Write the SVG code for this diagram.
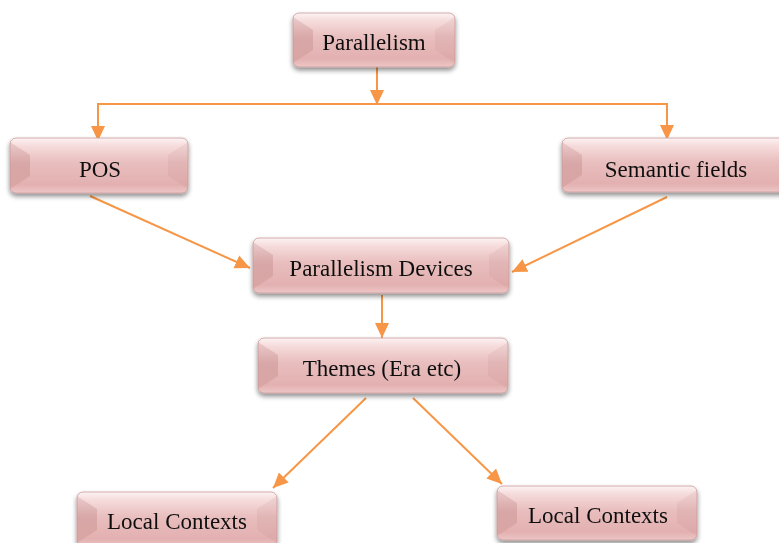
<svg xmlns="http://www.w3.org/2000/svg" width="779" height="543" viewBox="0 0 779 543">
<defs>
<linearGradient id="face" x1="0" y1="0" x2="0" y2="1">
<stop offset="0" stop-color="#fdf3f3"/>
<stop offset="0.14" stop-color="#f6dcdc"/>
<stop offset="0.45" stop-color="#e9bebe"/>
<stop offset="0.85" stop-color="#e3b0b0"/>
<stop offset="1" stop-color="#edc6c6"/>
</linearGradient>
<linearGradient id="lw" x1="0" y1="0" x2="0" y2="1">
<stop offset="0" stop-color="#c48b8b" stop-opacity="0.25"/>
<stop offset="0.5" stop-color="#c48b8b" stop-opacity="0.45"/>
<stop offset="1" stop-color="#c48b8b" stop-opacity="0.3"/>
</linearGradient>
<filter id="sh" x="-10%" y="-20%" width="120%" height="160%">
<feGaussianBlur in="SourceAlpha" stdDeviation="2.5"/>
<feOffset dx="0" dy="3"/>
<feComponentTransfer><feFuncA type="linear" slope="0.45"/></feComponentTransfer>
<feMerge><feMergeNode/><feMergeNode in="SourceGraphic"/></feMerge>
</filter>
<marker id="ah" markerUnits="userSpaceOnUse" markerWidth="16" markerHeight="16" viewBox="0 0 16 16" refX="15" refY="8" orient="auto">
<path d="M0,1 L15,8 L0,15 Z" fill="#f79646"/>
</marker>
</defs>
<style>
.lbl{font-family:"Liberation Serif","Times New Roman",serif;font-size:23px;fill:#111;text-anchor:middle}
.c{fill:none;stroke:#f79646;stroke-width:2}
.face{fill:url(#face)}
.lf{fill:url(#lw)}
.rt{fill:#b87c7c;fill-opacity:0.12}
.edge{fill:none;stroke:#c99a9a;stroke-width:0.8}
</style>

<g id="connectors">
<line class="c" x1="377" y1="67" x2="377" y2="105" marker-end="url(#ah)"/>
<polyline class="c" points="98,140 98,104 667,104 667,140" marker-end="url(#ah)"/>
<line class="c" x1="98" y1="104" x2="98" y2="141" marker-end="url(#ah)"/>
<line class="c" x1="90" y1="196" x2="250" y2="268" marker-end="url(#ah)"/>
<line class="c" x1="667" y1="197" x2="512" y2="272" marker-end="url(#ah)"/>
<line class="c" x1="382" y1="295" x2="382" y2="338" marker-end="url(#ah)"/>
<line class="c" x1="366" y1="398" x2="273" y2="488" marker-end="url(#ah)"/>
<line class="c" x1="413" y1="398" x2="502" y2="484" marker-end="url(#ah)"/>
</g>

<g id="n-parallelism" filter="url(#sh)">
<rect class="face" x="293" y="13" width="162" height="54" rx="6"/>
<polygon class="lf" points="293,17 313,30 313,50 293,63"/>
<polygon class="rt" points="455,17 435,30 435,50 455,63"/>
<rect class="edge" x="293" y="13" width="162" height="54" rx="6"/>
<text class="lbl" x="374" y="50">Parallelism</text>
</g>

<g id="n-pos" filter="url(#sh)">
<rect class="face" x="10" y="138" width="178" height="55" rx="6"/>
<polygon class="lf" points="10,142 30,155 30,176 10,189"/>
<polygon class="rt" points="188,142 168,155 168,176 188,189"/>
<rect class="edge" x="10" y="138" width="178" height="55" rx="6"/>
<text class="lbl" x="100" y="177">POS</text>
</g>

<g id="n-semantic" filter="url(#sh)">
<rect class="face" x="562" y="138" width="230" height="54" rx="6"/>
<polygon class="lf" points="562,142 582,155 582,175 562,188"/>
<rect class="edge" x="562" y="138" width="230" height="54" rx="6"/>
<text class="lbl" x="676" y="177">Semantic fields</text>
</g>

<g id="n-devices" filter="url(#sh)">
<rect class="face" x="253" y="238" width="256" height="55" rx="6"/>
<polygon class="lf" points="253,242 273,255 273,276 253,289"/>
<polygon class="rt" points="509,242 489,255 489,276 509,289"/>
<rect class="edge" x="253" y="238" width="256" height="55" rx="6"/>
<text class="lbl" x="381" y="276">Parallelism Devices</text>
</g>

<g id="n-themes" filter="url(#sh)">
<rect class="face" x="258" y="338" width="250" height="55" rx="6"/>
<polygon class="lf" points="258,342 278,355 278,376 258,389"/>
<polygon class="rt" points="508,342 488,355 488,376 508,389"/>
<rect class="edge" x="258" y="338" width="250" height="55" rx="6"/>
<text class="lbl" x="382" y="376">Themes (Era etc)</text>
</g>

<g id="n-local-left" filter="url(#sh)">
<rect class="face" x="77" y="492" width="200" height="55" rx="6"/>
<polygon class="lf" points="77,496 97,509 97,530 77,543"/>
<polygon class="rt" points="277,496 257,509 257,530 277,543"/>
<rect class="edge" x="77" y="492" width="200" height="55" rx="6"/>
<text class="lbl" x="177" y="529">Local Contexts</text>
</g>

<g id="n-local-right" filter="url(#sh)">
<rect class="face" x="497" y="486" width="200" height="54" rx="6"/>
<polygon class="lf" points="497,490 517,503 517,523 497,536"/>
<polygon class="rt" points="697,490 677,503 677,523 697,536"/>
<rect class="edge" x="497" y="486" width="200" height="54" rx="6"/>
<text class="lbl" x="598" y="523">Local Contexts</text>
</g>
</svg>
